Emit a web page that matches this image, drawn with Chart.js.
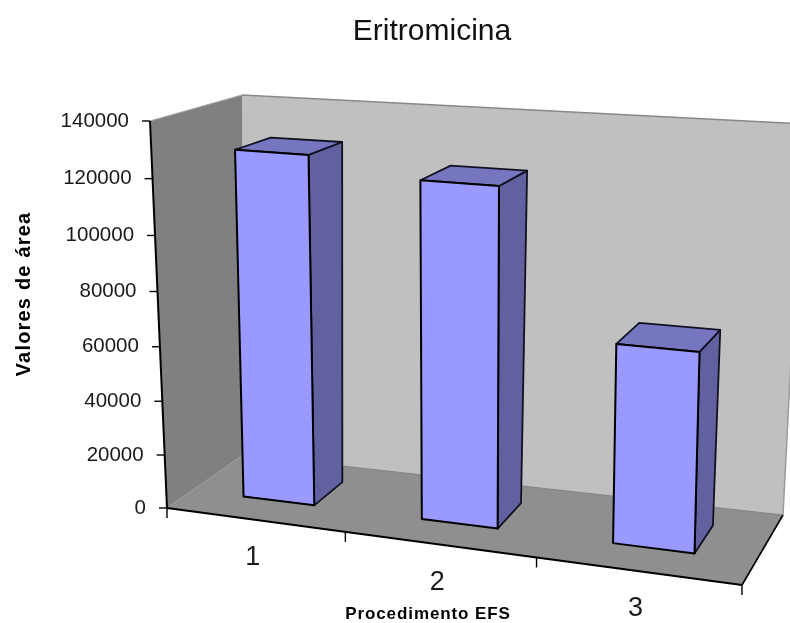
<!doctype html>
<html lang="pt">
<head>
  <meta charset="UTF-8">
  <title>Eritromicina</title>
  <script src="https://cdn.jsdelivr.net/npm/chart.js"></script>
  <style>
    html, body { margin: 0; padding: 0; background: #fff; }
    #wrap { width: 790px; height: 623px; }
  </style>
</head>
<body>
<div id="wrap"><canvas id="chart" width="790" height="623"></canvas></div>
<script>
  const categories = ['1', '2', '3'];
  const areaValues = [128000, 122000, 71000];
  const yMax = 140000;
  const yStep = 20000;
  const titleText = 'Eritromicina';
  const yTitleText = 'Valores de área';
  const xTitleText = 'Procedimento EFS';

  const FONT = '"Liberation Sans", Arial, sans-serif';

  // corners of the 3D box on screen: f = front, b = back, l/r = left/right, 0/1 = floor/top
  const box = {
    fl0: [167, 508], fr0: [742, 585], bl0: [243, 455], br0: [783, 515],
    fl1: [150, 121], fr1: [751, 164], bl1: [242, 95],  br1: [803, 124]
  };
  const persU = 1.112; // horizontal perspective
  const persV = 1.05;  // vertical perspective
  const barFront = 0.34, barBack = 0.75; // bar depth inside the box

  const lerp = (a, b, s) => [a[0] + (b[0] - a[0]) * s, a[1] + (b[1] - a[1]) * s];

  // chart pixels + depth -> screen position
  function project(chart, px, py, d) {
    const area = chart.chartArea;
    const t = (px - area.left) / (area.right - area.left);
    const h = (area.bottom - py) / (area.bottom - area.top);
    const u = t / (t + (1 - t) * persU);
    const v = h / (h + (1 - h) * persV);
    const floor = lerp(lerp(box.fl0, box.fr0, u), lerp(box.bl0, box.br0, u), d);
    const top = lerp(lerp(box.fl1, box.fr1, u), lerp(box.bl1, box.br1, u), d);
    return lerp(floor, top, v);
  }

  function poly(ctx, pts, fill, stroke, lw) {
    ctx.beginPath();
    pts.forEach((p, i) => i ? ctx.lineTo(p[0], p[1]) : ctx.moveTo(p[0], p[1]));
    ctx.closePath();
    if (fill) { ctx.fillStyle = fill; ctx.fill(); }
    if (stroke) { ctx.strokeStyle = stroke; ctx.lineWidth = lw; ctx.lineJoin = 'round'; ctx.stroke(); }
  }

  function line(ctx, a, b, color, lw) {
    ctx.beginPath();
    ctx.moveTo(a[0], a[1]);
    ctx.lineTo(b[0], b[1]);
    ctx.strokeStyle = color;
    ctx.lineWidth = lw;
    ctx.stroke();
  }

  const box3d = {
    id: 'box3d',
    beforeDatasetsDraw(chart) {
      const ctx = chart.ctx;
      ctx.save();
      // walls and floor
      poly(ctx, [box.bl0, box.br0, box.br1, box.bl1], '#c0c0c0');
      poly(ctx, [box.fl0, box.bl0, box.bl1, box.fl1], '#808080');
      poly(ctx, [box.fl0, box.fr0, box.br0, box.bl0], '#8f8f8f');
      line(ctx, box.bl1, box.br1, '#888888', 1.5);
      line(ctx, box.fl1, box.bl1, '#a0a0a0', 1);
      line(ctx, box.bl0, box.br0, '#808080', 1);
      line(ctx, box.br0, box.br1, '#9a9a9a', 1.5);

      // bars from the chart's own elements
      chart.getDatasetMeta(0).data.forEach(bar => {
        const l = bar.x - bar.width / 2, r = bar.x + bar.width / 2;
        const P = (x, y, d) => project(chart, x, y, d);
        const front = [P(l, bar.base, barFront), P(r, bar.base, barFront), P(r, bar.y, barFront), P(l, bar.y, barFront)];
        const side = [P(r, bar.base, barFront), P(r, bar.base, barBack), P(r, bar.y, barBack), P(r, bar.y, barFront)];
        const top = [P(l, bar.y, barFront), P(r, bar.y, barFront), P(r, bar.y, barBack), P(l, bar.y, barBack)];
        poly(ctx, side, '#6161a0', '#111122', 1.8);
        poly(ctx, top, '#7676c0', '#111122', 1.8);
        poly(ctx, front, '#9999ff', '#000000', 2);
      });
      ctx.restore();
      return false;
    },
    afterDraw(chart) {
      const ctx = chart.ctx;
      const sx = chart.scales.x, sy = chart.scales.y;
      const area = chart.chartArea;
      ctx.save();

      // axis lines
      line(ctx, project(chart, area.left, area.top, 0), project(chart, area.left, area.bottom, 0), '#000', 2);
      line(ctx, project(chart, area.left, area.bottom, 0), project(chart, area.right, area.bottom, 0), '#000', 2);
      line(ctx, box.fr0, box.br0, '#000', 1.6);

      // value ticks and labels
      ctx.fillStyle = '#1a1a1a';
      ctx.font = '20.5px ' + FONT;
      ctx.textAlign = 'right';
      ctx.textBaseline = 'middle';
      sy.ticks.forEach(tick => {
        const p = project(chart, area.left, sy.getPixelForValue(tick.value), 0);
        line(ctx, [p[0] - 8, p[1]], [p[0], p[1]], '#000', 1.4);
        ctx.fillText(String(tick.value), p[0] - 21, p[1]);
      });

      // category ticks between the bars
      for (let i = 0; i <= categories.length; i++) {
        const px = area.left + (area.right - area.left) * i / categories.length;
        const p = project(chart, px, area.bottom, 0);
        line(ctx, p, [p[0], p[1] + 10], '#000', 1.4);
      }

      // category labels
      ctx.font = '27px ' + FONT;
      ctx.textAlign = 'center';
      categories.forEach((label, i) => {
        const p = project(chart, sx.getPixelForValue(i), area.bottom, 0);
        ctx.fillText(label, p[0] - 2, p[1] + 38);
      });

      // axis titles
      ctx.fillStyle = '#000';
      ctx.font = 'bold 17px ' + FONT;
      ctx.letterSpacing = '0.9px';
      ctx.fillText(xTitleText, 428, 614);
      ctx.font = 'bold 20px ' + FONT;
      ctx.letterSpacing = '1.2px';
      ctx.translate(24, 294);
      ctx.rotate(-Math.PI / 2);
      ctx.fillText(yTitleText, 0, 0);
      ctx.restore();
    }
  };

  new Chart(document.getElementById('chart').getContext('2d'), {
    type: 'bar',
    data: {
      labels: categories,
      datasets: [{
        label: titleText,
        data: areaValues,
        backgroundColor: '#9999ff',
        barPercentage: 0.405,
        categoryPercentage: 1
      }]
    },
    options: {
      responsive: false,
      animation: false,
      layout: { padding: { left: 167, right: 93, bottom: 115, top: 0 } },
      scales: {
        x: { display: false },
        y: { display: false, min: 0, max: yMax, ticks: { stepSize: yStep } }
      },
      plugins: {
        legend: { display: false },
        tooltip: { enabled: false },
        title: {
          display: true,
          text: titleText,
          fullSize: false,
          color: '#111',
          font: { family: FONT, size: 30, weight: 'normal' },
          padding: { top: 14, bottom: 70 }
        }
      }
    },
    plugins: [box3d]
  });
</script>
</body>
</html>
